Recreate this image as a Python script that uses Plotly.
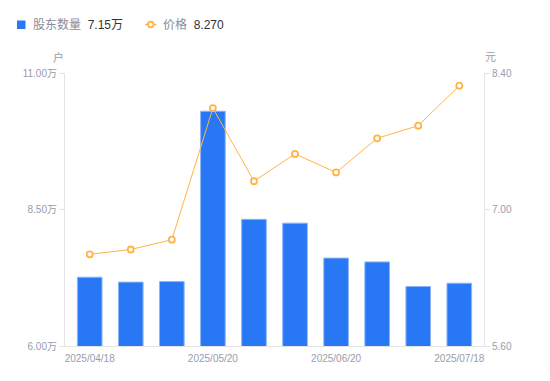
import plotly.graph_objects as go

dates = ["2025/04/18", "2025/04/30", "2025/05/09", "2025/05/20", "2025/05/30",
         "2025/06/10", "2025/06/20", "2025/06/30", "2025/07/10", "2025/07/18"]
holders = [7.26, 7.17, 7.18, 10.30, 8.32, 8.25, 7.61, 7.54, 7.09, 7.15]  # 万户
price = [6.54, 6.59, 6.69, 8.04, 7.29, 7.57, 7.38, 7.73, 7.86, 8.27]
tick_dates = [dates[0], dates[3], dates[6], dates[9]]
left_ticks = [6.0, 8.5, 11.0]
right_ticks = [5.6, 7.0, 8.4]

BLUE = "#2878F5"
ORANGE = "#FFB445"
GRAY = "#9a9cab"
AXIS = "#e3e3e8"
FONT = "Liberation Sans, Arial, Noto Sans CJK SC, sans-serif"

W, H = 550, 381
ML, MR, MT, MB = 65, 66, 73, 35
PW, PH = W - ML - MR, H - MT - MB


def px(x):
    return (x - ML) / PW


def py(y):
    return (H - MB - y) / PH


fig = go.Figure()
fig.add_trace(go.Bar(x=dates, y=holders, marker=dict(color=BLUE, line=dict(color="#8bb5fa", width=1)),
                     width=0.6, yaxis="y", showlegend=False, hoverinfo="skip"))
fig.add_trace(go.Scatter(x=dates, y=price, yaxis="y2", mode="lines+markers",
                         line=dict(color=ORANGE, width=1),
                         marker=dict(symbol="circle", size=6, color="white",
                                     line=dict(color=ORANGE, width=1.8)),
                         showlegend=False, hoverinfo="skip"))

fig.update_layout(
    width=W, height=H,
    margin=dict(l=ML, r=MR, t=MT, b=MB, pad=0),
    paper_bgcolor="white", plot_bgcolor="white",
    font=dict(family=FONT, size=10, color=GRAY),
    xaxis=dict(type="category", tickmode="array", tickvals=tick_dates, ticktext=tick_dates,
               showline=True, linecolor=AXIS, linewidth=1, showgrid=False,
               ticks="outside", ticklen=3, tickcolor="rgba(0,0,0,0)",
               tickfont=dict(size=10, color=GRAY), zeroline=False),
    yaxis=dict(range=[6, 11], tickvals=left_ticks, ticktext=[f"{v:.2f}万" for v in left_ticks],
               showline=True, linecolor=AXIS, showgrid=False, ticks="outside", ticklen=5,
               tickcolor=AXIS, zeroline=False, tickfont=dict(size=10, color=GRAY)),
    yaxis2=dict(range=[5.6, 8.4], tickvals=right_ticks, ticktext=[f"{v:.2f}" for v in right_ticks],
                overlaying="y", side="right", showline=True, linecolor=AXIS, showgrid=False,
                ticks="outside", ticklen=5, tickcolor=AXIS, zeroline=False,
                tickfont=dict(size=10, color=GRAY)),
)

# Axis unit titles
for x, y, t in [(58, 57, "户"), (490, 57, "元")]:
    fig.add_annotation(x=px(x), y=py(y), xref="paper", yref="paper",
                       text=t, showarrow=False, xanchor="center", yanchor="middle",
                       font=dict(size=11, color=GRAY, family=FONT))

# Custom legend
ly = 24.5
fig.add_shape(type="rect", xref="paper", yref="paper",
              x0=px(17), x1=px(25.5), y0=py(20.5), y1=py(29),
              fillcolor=BLUE, line=dict(width=0))
fig.add_annotation(x=px(31), y=py(ly), xref="paper", yref="paper", showarrow=False,
                   xanchor="left", yanchor="middle",
                   text=f"股东数量  <span style='color:#333'>{holders[-1]:.2f}万</span>",
                   font=dict(size=12, color="#8a8c99", family=FONT))
fig.add_shape(type="line", xref="paper", yref="paper",
              x0=px(145), x1=px(156.5), y0=py(ly), y1=py(ly), line=dict(color=ORANGE, width=1.5))
fig.add_shape(type="circle", xref="paper", yref="paper",
              x0=px(148), x1=px(153.5), y0=py(ly - 2.75), y1=py(ly + 2.75),
              fillcolor="white", line=dict(color=ORANGE, width=1.8))
fig.add_annotation(x=px(161), y=py(ly), xref="paper", yref="paper", showarrow=False,
                   xanchor="left", yanchor="middle",
                   text=f"价格  <span style='color:#333'>{price[-1]:.3f}</span>",
                   font=dict(size=12, color="#8a8c99", family=FONT))

fig.write_html("out.html", config={"displayModeBar": False},
               post_script="document.body.style.margin='0';")
